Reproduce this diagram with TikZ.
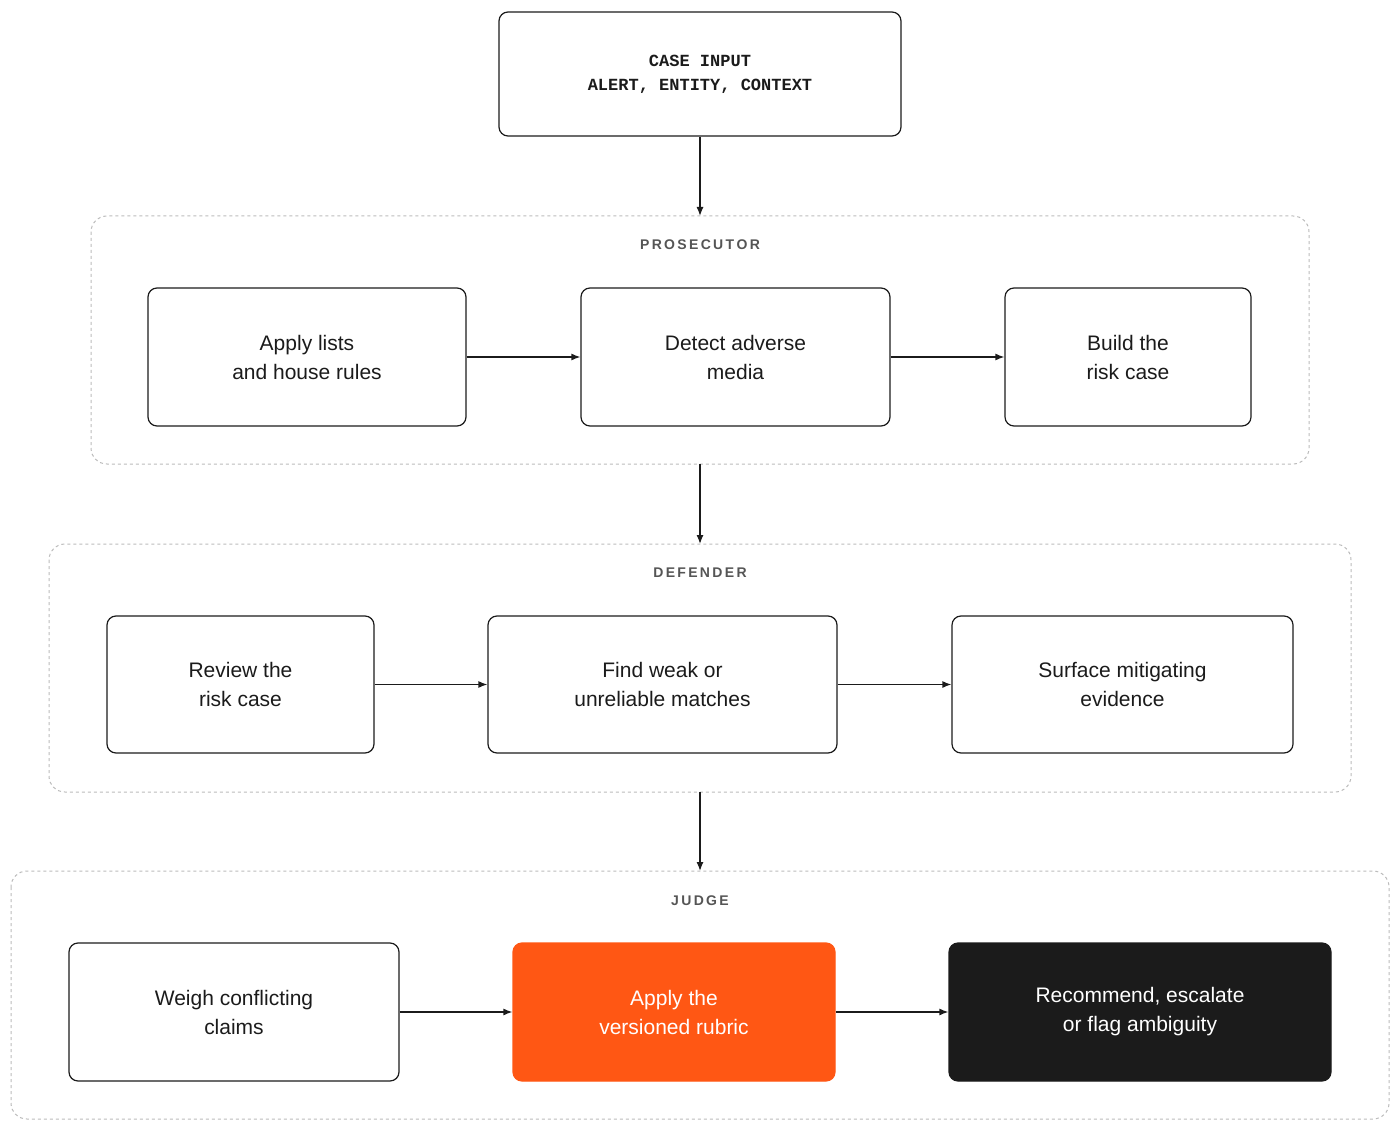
\documentclass[tikz,border=0pt]{standalone}
\usepackage{fontspec}
\setmainfont{Liberation Sans}
\setmonofont{Liberation Mono}
\usetikzlibrary{arrows.meta}
\definecolor{orng}{HTML}{FF5714}
\definecolor{blk}{HTML}{1B1B1B}
\definecolor{grp}{HTML}{BBBBBB}
\definecolor{lbl}{HTML}{555555}
\begin{document}
\begin{tikzpicture}[x=1pt,y=-1pt,
  box/.style={draw=blk,line width=1.2pt,rounded corners=9pt,align=center,inner sep=0pt,font=\fontsize{21}{29}\selectfont,text=blk},
  grpbox/.style={draw=grp,dashed,line width=1pt,rounded corners=16pt},
  glabel/.style={font=\fontsize{14}{16}\selectfont\bfseries,text=lbl},
  arr/.style={-{Latex[length=9pt,width=7pt]},line width=1.3pt,draw=blk}]
\useasboundingbox (0,0) rectangle (1400,1131);
\newcommand{\bx}[6]{\node[box,#6,minimum width={#3-#2},minimum height={#5-#4}] (#1) at ({(#2+#3)/2},{(#4+#5)/2}) {};}
% case input
\node[box,minimum width=402,minimum height=124,font=\ttfamily\bfseries\fontsize{17}{24}\selectfont] (in) at (700,74) {CASE INPUT\\ALERT, ENTITY, CONTEXT};
% groups
\draw[grpbox] (91,216) rectangle (1309,464);
\draw[grpbox] (49,544) rectangle (1351,792);
\draw[grpbox] (11,871) rectangle (1389,1119);
\node[glabel] (gp) at (700,245) {P\,R\,O\,S\,E\,C\,U\,T\,O\,R};
\node[glabel] (gd) at (700,573) {D\,E\,F\,E\,N\,D\,E\,R};
\node[glabel] (gj) at (700,901) {J\,U\,D\,G\,E};
\coordinate (p1) at (700,216); \coordinate (p2) at (700,464);
\coordinate (d1) at (700,544); \coordinate (d2) at (700,792);
\coordinate (j1) at (700,871);
% prosecutor
\node[box,minimum width=318,minimum height=138] (a1) at (307,357) {Apply lists\\and house rules};
\node[box,minimum width=309,minimum height=138] (a2) at (735.5,357) {Detect adverse\\media};
\node[box,minimum width=246,minimum height=138] (a3) at (1128,357) {Build the\\risk case};
% defender
\node[box,minimum width=267,minimum height=137] (b1) at (240.5,684.5) {Review the\\risk case};
\node[box,minimum width=349,minimum height=137] (b2) at (662.5,684.5) {Find weak or\\unreliable matches};
\node[box,minimum width=341,minimum height=137] (b3) at (1122.5,684.5) {Surface mitigating\\evidence};
% judge
\node[box,minimum width=330,minimum height=138] (c1) at (234,1012) {Weigh conflicting\\claims};
\node[box,draw=orng,fill=orng,text=white,minimum width=322,minimum height=138] (c2) at (674,1012) {Apply the\\versioned rubric};
\node[box,fill=blk,text=white,minimum width=382,minimum height=138] (c3) at (1140,1012) {Recommend, escalate\\or flag ambiguity};
% arrows
\draw[arr] (in) -- (p1);
\draw[arr] (p2) -- (d1);
\draw[arr] (d2) -- (j1);
\draw[arr] (a1) -- (a2); \draw[arr] (a2) -- (a3);
\draw[arr] (b1) -- (b2); \draw[arr] (b2) -- (b3);
\draw[arr] (c1) -- (c2); \draw[arr] (c2) -- (c3);
\end{tikzpicture}
\end{document}
